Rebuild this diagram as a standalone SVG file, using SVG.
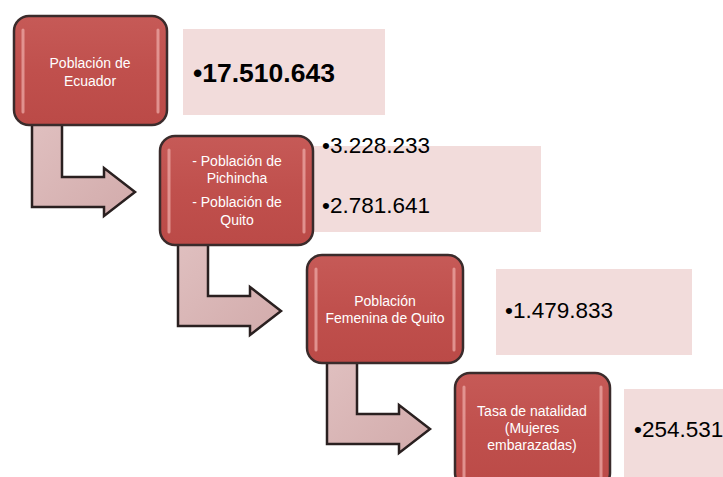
<svg xmlns="http://www.w3.org/2000/svg" width="723" height="477" viewBox="0 0 723 477">
<defs>
<linearGradient id="boxg" x1="0" y1="0" x2="0" y2="1">
<stop offset="0" stop-color="#c65a57"/>
<stop offset="0.5" stop-color="#c0504d"/>
<stop offset="1" stop-color="#bb4a47"/>
</linearGradient>
<linearGradient id="arrg" x1="0" y1="0" x2="1" y2="1">
<stop offset="0" stop-color="#e0c0c0"/>
<stop offset="1" stop-color="#d2abab"/>
</linearGradient>
<path id="arrow" d="M32,118 L62,118 L62,177 L104,177 L104,168 L135,192 L104,216 L104,207 L32,207 Z"/>
</defs>
<style>
.box{fill:url(#boxg);stroke:#3a2b2b;stroke-width:2.5}
.hl{stroke:#eaa3a0;stroke-width:3;stroke-linecap:round;opacity:0.8}
.info{fill:#f2dcdb}
.bt{font-family:"Liberation Sans",Arial,sans-serif;font-size:14px;fill:#ffffff;text-anchor:middle}
.num{font-family:"Liberation Sans",Arial,sans-serif;font-size:22.5px;fill:#000000}
.big{font-family:"Liberation Sans",Arial,sans-serif;font-size:26.5px;font-weight:bold;fill:#000000}
.arr{fill:url(#arrg);stroke:#2a2020;stroke-width:2.5;stroke-linejoin:miter}
</style>
<rect class="info" x="183" y="29" width="202" height="86"/>
<rect class="info" x="313" y="146" width="228" height="86"/>
<rect class="info" x="496" y="269" width="196" height="86"/>
<rect class="info" x="624" y="389" width="99" height="88"/>
<g id="connectors">
<use href="#arrow" class="arr"/>
<use href="#arrow" class="arr" transform="translate(146,119)"/>
<use href="#arrow" class="arr" transform="translate(295,237)"/>
</g>
<g id="n1">
<rect class="box" x="14" y="16" width="153" height="109" rx="15"/>
<line class="hl" x1="23" y1="30" x2="23" y2="112"/>
<line class="hl" x1="158" y1="30" x2="158" y2="112"/>
<text class="bt" x="90" y="68">Población de</text>
<text class="bt" x="90" y="86">Ecuador</text>
</g>
<g id="n1v">
<text class="big" x="193" y="82">•17.510.643</text>
</g>
<g id="n2">
<rect class="box" x="160" y="136" width="153" height="109" rx="15"/>
<line class="hl" x1="169" y1="150" x2="169" y2="232"/>
<line class="hl" x1="304" y1="150" x2="304" y2="232"/>
<text class="bt" x="237" y="166">- Población de</text>
<text class="bt" x="237" y="183">Pichincha</text>
<text class="bt" x="237" y="207">- Población de</text>
<text class="bt" x="237" y="225">Quito</text>
</g>
<g id="n2v">
<text class="num" x="322" y="153">•3.228.233</text>
<text class="num" x="322" y="213">•2.781.641</text>
</g>
<g id="n3">
<rect class="box" x="307" y="255" width="156" height="108" rx="15"/>
<line class="hl" x1="316" y1="269" x2="316" y2="350"/>
<line class="hl" x1="454" y1="269" x2="454" y2="350"/>
<text class="bt" x="385" y="306">Población</text>
<text class="bt" x="385" y="323">Femenina de Quito</text>
</g>
<g id="n3v">
<text class="num" x="505" y="318">•1.479.833</text>
</g>
<g id="n4">
<rect class="box" x="455" y="373" width="155" height="115" rx="15"/>
<line class="hl" x1="464" y1="387" x2="464" y2="477"/>
<line class="hl" x1="601" y1="387" x2="601" y2="477"/>
<text class="bt" x="532" y="416">Tasa de natalidad</text>
<text class="bt" x="532" y="433">(Mujeres</text>
<text class="bt" x="532" y="450">embarazadas)</text>
</g>
<g id="n4v">
<text class="num" x="634" y="437">•254.531</text>
</g>
</svg>
